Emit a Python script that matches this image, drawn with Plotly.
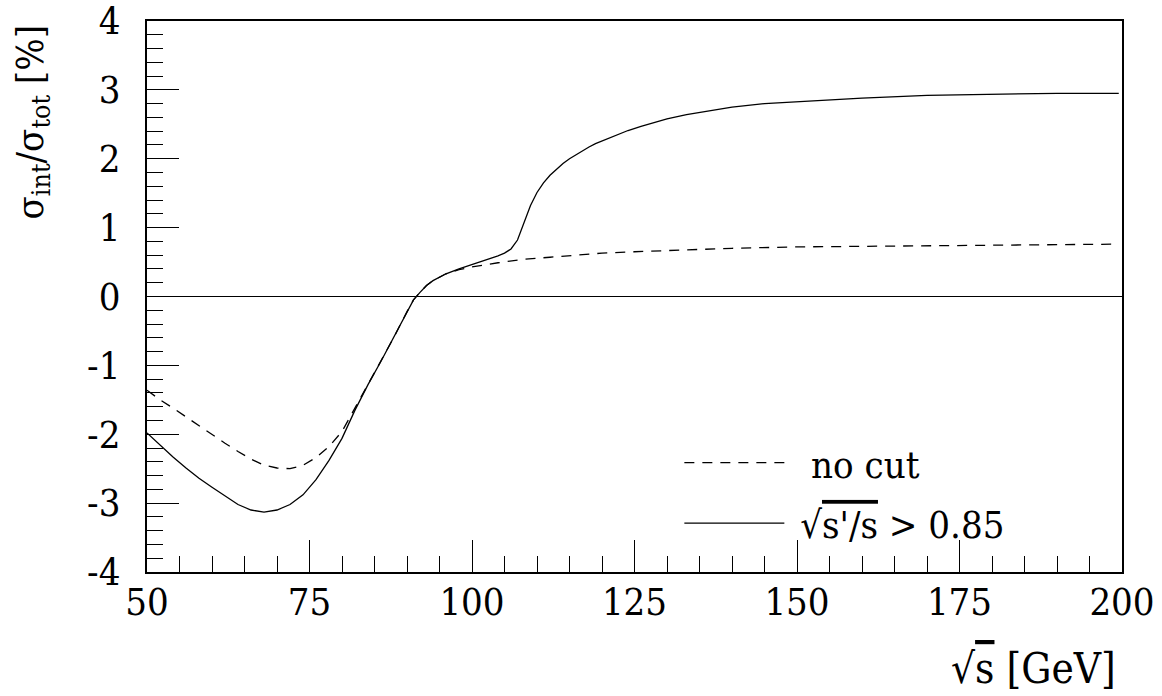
import plotly.graph_objects as go

# sqrt(s) in GeV and interference fraction in percent
x_cut = [50, 52, 54, 56, 58, 60, 62, 64, 66, 68, 70, 72, 74, 76, 78, 80, 82, 84, 86, 88,
         90, 91, 92, 93, 94, 96, 98, 100, 102, 104, 105, 106, 107, 108, 109, 110, 111, 112,
         113, 114, 115, 116, 117, 118, 119, 120, 122, 124, 126, 128, 130, 133, 136, 140,
         145, 150, 155, 160, 170, 180, 190, 199.5]
y_cut = [-1.98, -2.16, -2.33, -2.49, -2.64, -2.77, -2.90, -3.02, -3.10, -3.13, -3.10, -3.02,
         -2.88, -2.66, -2.38, -2.06, -1.65, -1.28, -0.94, -0.59, -0.22, -0.05, 0.06, 0.16,
         0.23, 0.33, 0.40, 0.46, 0.53, 0.59, 0.63, 0.69, 0.82, 1.08, 1.32, 1.51, 1.65, 1.76,
         1.85, 1.93, 2.00, 2.06, 2.12, 2.17, 2.22, 2.26, 2.34, 2.41, 2.47, 2.53, 2.58, 2.64,
         2.69, 2.75, 2.80, 2.83, 2.86, 2.88, 2.92, 2.94, 2.95, 2.95]

x_nocut = [50, 52, 54, 56, 58, 60, 62, 64, 66, 68, 70, 72, 74, 76, 78, 80, 82, 84, 86, 88,
           90, 91, 92, 93, 94, 96, 98, 100, 104, 108, 112, 116, 120, 125, 130, 140, 150, 160,
           170, 180, 190, 199]
y_nocut = [-1.36, -1.50, -1.62, -1.75, -1.88, -2.00, -2.13, -2.25, -2.36, -2.45, -2.49, -2.50,
           -2.45, -2.34, -2.18, -1.96, -1.62, -1.28, -0.94, -0.59, -0.22, -0.05, 0.06, 0.16,
           0.23, 0.33, 0.39, 0.43, 0.49, 0.54, 0.57, 0.60, 0.63, 0.65, 0.67, 0.70, 0.72, 0.73,
           0.74, 0.75, 0.76, 0.76]

x_ticks = [50, 75, 100, 125, 150, 175, 200]
y_ticks = [-4, -3, -2, -1, 0, 1, 2, 3, 4]
y_tick_text = ["-4", "-3", "-2", "-1", "0", "1", "2", "3", "4"]

FONT = "DejaVu Serif Condensed, DejaVu Serif, serif"
SIZE = 38
NB = "\u00a0"
OVER = "<span style='text-decoration:overline'>{}</span>"

fig = go.Figure()
fig.add_trace(go.Scatter(
    x=x_nocut, y=y_nocut, mode="lines", name=NB * 2 + "no cut", legendgroup="nocut",
    line=dict(color="black", width=1.3, dash="10px,8px"),
))
fig.add_trace(go.Scatter(
    x=x_cut, y=y_cut, mode="lines", legendgroup="cut",
    name=NB + "√" + OVER.format("s'/s") + " &gt; 0.85",
    line=dict(color="black", width=1.3),
))

fig.update_layout(
    width=1162, height=696,
    margin=dict(l=147, r=40, t=21, b=124, autoexpand=False),
    paper_bgcolor="white", plot_bgcolor="white",
    font=dict(family=FONT, size=SIZE, color="black"),
    showlegend=True,
    legend=dict(
        x=0.546, y=0.255, xanchor="left", yanchor="top",
        bgcolor="rgba(0,0,0,0)", borderwidth=0,
        itemwidth=100, tracegroupgap=8,
        font=dict(family=FONT, size=SIZE, color="black"),
    ),
    xaxis=dict(
        range=[50, 200], tickvals=x_ticks, ticks="inside", ticklen=32, tickwidth=1,
        tickcolor="black", showline=True, mirror=True, linecolor="black", linewidth=2,
        showgrid=False, zeroline=False, ticklabelstandoff=-5, ticklabeloverflow="allow",
        automargin=False,
        tickfont=dict(family=FONT, size=SIZE, color="black"),
        minor=dict(dtick=5, ticks="inside", ticklen=16, tickwidth=1, tickcolor="black",
                   showgrid=False),
    ),
    yaxis=dict(
        range=[-4, 4], tickvals=y_ticks, ticktext=y_tick_text, ticks="inside",
        ticklen=32, tickwidth=1, tickcolor="black", showline=True, mirror=True,
        linecolor="black", linewidth=2, showgrid=False, zeroline=True,
        zerolinecolor="black", zerolinewidth=1.3, ticklabelstandoff=17,
        ticklabeloverflow="allow", automargin=False,
        tickfont=dict(family=FONT, size=SIZE, color="black"),
        minor=dict(dtick=0.2, ticks="inside", ticklen=16, tickwidth=1, tickcolor="black",
                   showgrid=False),
    ),
    annotations=[
        dict(text="σ<sub>int</sub>/σ<sub>tot</sub> [%]", textangle=-90,
             xref="paper", yref="paper", x=0, y=1, xanchor="center", yanchor="top",
             xshift=-115, yshift=-2, showarrow=False,
             font=dict(family=FONT, size=SIZE, color="black")),
        dict(text="√" + OVER.format("s") + " [GeV]",
             xref="paper", yref="paper", x=1, y=0, xanchor="right", yanchor="top",
             xshift=-4, yshift=-70, showarrow=False,
             font=dict(family=FONT, size=42, color="black")),
    ],
)

fig.write_html("out.html")
